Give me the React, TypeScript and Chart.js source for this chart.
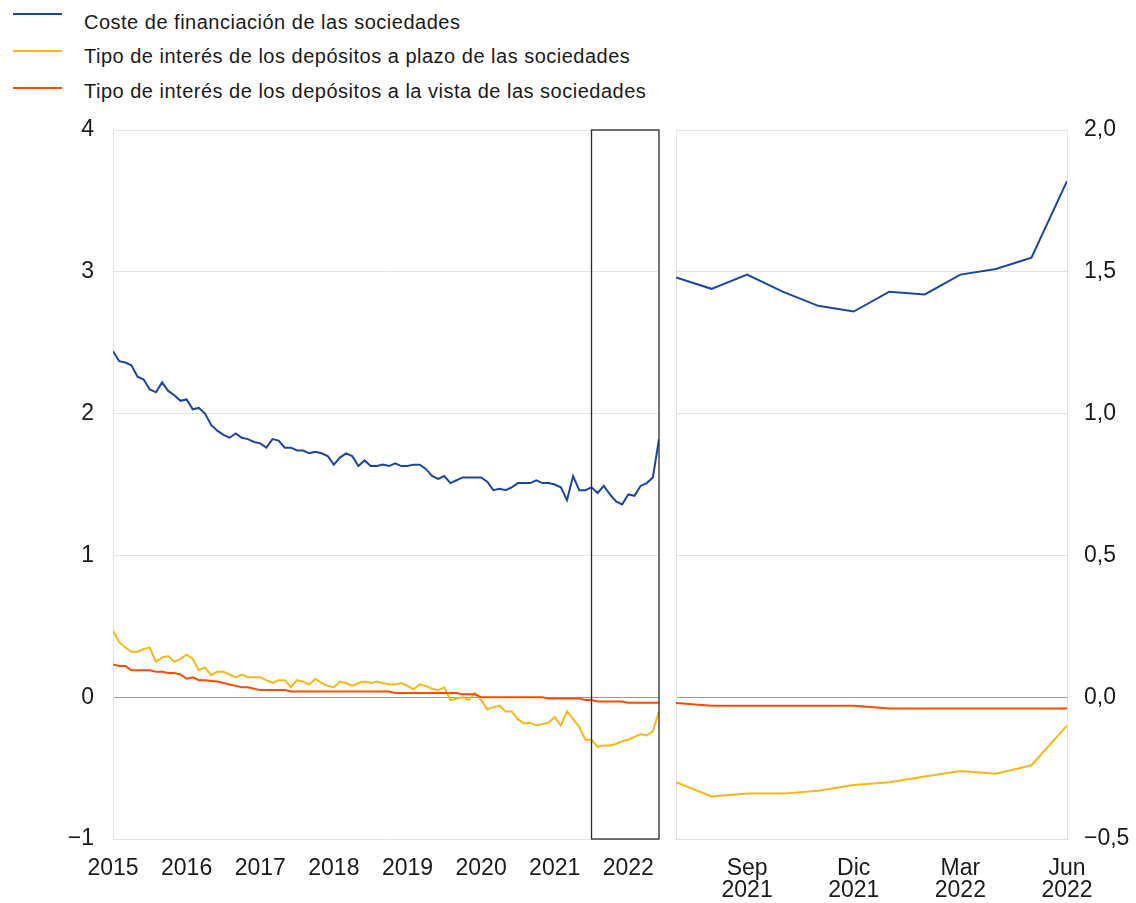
import React, { useEffect, useRef } from "react";
import { Chart, registerables } from "chart.js";

Chart.register(...registerables);

const FONT = "'Liberation Sans', Arial, Helvetica, sans-serif";

// Monthly data, Jan 2015 .. Jun 2022 (90 months)
const costeFinanciacion = [
  2.44, 2.37, 2.36, 2.34, 2.26, 2.24, 2.17, 2.15, 2.22, 2.16, 2.13, 2.09,
  2.10, 2.03, 2.04, 2.00, 1.92, 1.88, 1.85, 1.83, 1.86, 1.83, 1.82, 1.80,
  1.79, 1.76, 1.82, 1.81, 1.76, 1.76, 1.74, 1.74, 1.72, 1.73, 1.72, 1.70,
  1.64, 1.69, 1.72, 1.70, 1.63, 1.67, 1.63, 1.63, 1.64, 1.63, 1.65, 1.63,
  1.63, 1.64, 1.64, 1.61, 1.56, 1.54, 1.56, 1.51, 1.53, 1.55, 1.55, 1.55,
  1.55, 1.52, 1.46, 1.47, 1.46, 1.48, 1.51, 1.51, 1.51, 1.53, 1.51, 1.51,
  1.50, 1.48, 1.39, 1.56, 1.46, 1.46, 1.48, 1.44, 1.49, 1.43, 1.38, 1.36,
  1.43, 1.42, 1.49, 1.51, 1.55, 1.82,
];

const depositosPlazo = [
  0.47, 0.39, 0.35, 0.32, 0.32, 0.34, 0.35, 0.25, 0.28, 0.29, 0.25, 0.27,
  0.30, 0.27, 0.19, 0.21, 0.155, 0.18, 0.18, 0.16, 0.14, 0.16, 0.14, 0.14,
  0.14, 0.12, 0.10, 0.12, 0.12, 0.07, 0.12, 0.11, 0.09, 0.13, 0.10, 0.08,
  0.07, 0.11, 0.10, 0.08, 0.10, 0.11, 0.10, 0.11, 0.10, 0.09, 0.09, 0.10,
  0.08, 0.056, 0.09, 0.08, 0.06, 0.05, 0.07, -0.02, -0.01, 0.0, -0.02, 0.03,
  -0.02, -0.085, -0.07, -0.06, -0.10, -0.10, -0.155, -0.185, -0.18, -0.20, -0.19, -0.18,
  -0.14, -0.20, -0.10, -0.155, -0.21, -0.30, -0.30, -0.35, -0.34, -0.34, -0.33, -0.31,
  -0.30, -0.28, -0.26, -0.27, -0.24, -0.10,
];

const depositosVista = [
  0.23, 0.22, 0.22, 0.19, 0.19, 0.19, 0.19, 0.18, 0.18, 0.17, 0.17, 0.16,
  0.13, 0.14, 0.12, 0.12, 0.115, 0.11, 0.10, 0.09, 0.08, 0.07, 0.07, 0.06,
  0.05, 0.05, 0.05, 0.05, 0.05, 0.04, 0.04, 0.04, 0.04, 0.04, 0.04, 0.04,
  0.04, 0.04, 0.04, 0.04, 0.04, 0.04, 0.04, 0.04, 0.04, 0.04, 0.03, 0.03,
  0.03, 0.03, 0.03, 0.03, 0.03, 0.03, 0.03, 0.03, 0.03, 0.02, 0.02, 0.02,
  0.0, 0.0, 0.0, 0.0, 0.0, 0.0, 0.0, 0.0, 0.0, 0.0, 0.0, -0.01,
  -0.01, -0.01, -0.01, -0.01, -0.01, -0.02, -0.02, -0.03, -0.03, -0.03, -0.03, -0.03,
  -0.04, -0.04, -0.04, -0.04, -0.04, -0.04,
];

const seriesNames = [
  "Coste de financiación de las sociedades",
  "Tipo de interés de los depósitos a plazo de las sociedades",
  "Tipo de interés de los depósitos a la vista de las sociedades",
];
const seriesColors = ["#1c469e", "#f7b718", "#ff4b00"];

const yearLabels = ["2015", "2016", "2017", "2018", "2019", "2020", "2021", "2022"];
const zoomStart = 78; // Jul 2021
const zoomTickMonths = [2, 5, 8, 11];
const zoomTickLabels = [
  ["Sep", "2021"],
  ["Dic", "2021"],
  ["Mar", "2022"],
  ["Jun", "2022"],
];

const GRID = "#e3e3e3";
const ZERO = "#9a9a9a";
const TEXT = "#1a1a1a";

const fmtLeft = (v: number) => (v < 0 ? "\u2212" + Math.abs(v) : String(v));
const fmtRight = (v: number) => {
  const s = Math.abs(v).toFixed(1).replace(".", ",");
  return v < 0 ? "\u2212" + s : s;
};

function makeDatasets(offset: number) {
  const arrs = [costeFinanciacion, depositosPlazo, depositosVista];
  return arrs.map((arr, k) => ({
    label: seriesNames[k],
    data: arr.slice(offset).map((v, i) => ({ x: i, y: v })),
    borderColor: seriesColors[k],
    backgroundColor: seriesColors[k],
    borderWidth: 2,
    pointRadius: 0,
    tension: 0,
    order: 2 - k,
  }));
}

export default function App() {
  const leftRef = useRef<HTMLCanvasElement | null>(null);
  const rightRef = useRef<HTMLCanvasElement | null>(null);

  useEffect(() => {
    document.body.style.margin = "0";
    const tickFont = { family: FONT, size: 23, lineHeight: 0.96 };

    const boxPlugin = {
      id: "zoomBox",
      afterDatasetsDraw(chart: any) {
        const { ctx, chartArea, scales } = chart;
        const x0 = scales.x.getPixelForValue(zoomStart);
        const x1 = scales.x.getPixelForValue(costeFinanciacion.length - 1);
        ctx.save();
        ctx.strokeStyle = "#2a2a2a";
        ctx.lineWidth = 1.3;
        ctx.strokeRect(x0, chartArea.top, x1 - x0, chartArea.bottom - chartArea.top);
        ctx.restore();
      },
    };

    const left = new Chart(leftRef.current!, {
      type: "line",
      data: { datasets: makeDatasets(0) as any },
      options: {
        responsive: false,
        animation: false,
        layout: { padding: { top: 130, right: 9, left: 0, bottom: 0 } },
        plugins: { legend: { display: false }, tooltip: { enabled: false } },
        scales: {
          x: {
            type: "linear",
            min: 0,
            max: costeFinanciacion.length - 1,
            grid: { display: false },
            border: { display: false },
            afterBuildTicks: (s: any) => {
              s.ticks = yearLabels.map((_, i) => ({ value: i * 12 }));
            },
            afterFit: (s: any) => {
              s.height = 64;
            },
            ticks: {
              autoSkip: false,
              maxRotation: 0,
              padding: 11,
              color: TEXT,
              font: tickFont,
              callback: (v: any) => yearLabels[Math.round(v / 12)],
            },
          },
          y: {
            min: -1,
            max: 4,
            afterFit: (s: any) => {
              s.width = 113;
            },
            border: { display: true, color: GRID },
            grid: {
              drawTicks: false,
              color: (c: any) => (c.tick && c.tick.value === 0 ? ZERO : GRID),
            },
            ticks: {
              stepSize: 1,
              padding: 19,
              color: TEXT,
              font: tickFont,
              callback: (v: any) => fmtLeft(v),
            },
          },
        },
      },
      plugins: [boxPlugin],
    });

    const edgePlugin = {
      id: "leftEdge",
      beforeDatasetsDraw(chart: any) {
        const { ctx, chartArea } = chart;
        ctx.save();
        ctx.strokeStyle = GRID;
        ctx.lineWidth = 1;
        ctx.beginPath();
        ctx.moveTo(chartArea.left + 0.5, chartArea.top);
        ctx.lineTo(chartArea.left + 0.5, chartArea.bottom);
        ctx.stroke();
        ctx.restore();
      },
    };

    const right = new Chart(rightRef.current!, {
      type: "line",
      data: { datasets: makeDatasets(zoomStart) as any },
      options: {
        responsive: false,
        animation: false,
        layout: { padding: { top: 130, right: 0, left: 8, bottom: 0 } },
        plugins: { legend: { display: false }, tooltip: { enabled: false } },
        scales: {
          x: {
            type: "linear",
            min: 0,
            max: costeFinanciacion.length - 1 - zoomStart,
            grid: { display: false },
            border: { display: false },
            afterBuildTicks: (s: any) => {
              s.ticks = zoomTickMonths.map((m) => ({ value: m }));
            },
            afterFit: (s: any) => {
              s.height = 64;
            },
            ticks: {
              autoSkip: false,
              maxRotation: 0,
              padding: 11,
              color: TEXT,
              font: tickFont,
              callback: (v: any) => zoomTickLabels[zoomTickMonths.indexOf(Math.round(v))],
            },
          },
          y: {
            position: "right",
            min: -0.5,
            max: 2,
            afterFit: (s: any) => {
              s.width = 69;
            },
            border: { display: true, color: GRID },
            grid: {
              drawTicks: false,
              color: (c: any) => (c.tick && c.tick.value === 0 ? ZERO : GRID),
            },
            ticks: {
              stepSize: 0.5,
              padding: 17,
              color: TEXT,
              font: tickFont,
              callback: (v: any) => fmtRight(v),
            },
          },
        },
      },
      plugins: [edgePlugin],
    });

    return () => {
      left.destroy();
      right.destroy();
    };
  }, []);

  const lineYs = [14, 51, 88];
  const textTops = [10, 44, 79];

  return (
    <div
      style={{
        position: "relative",
        width: 1136,
        height: 903,
        background: "#fff",
        overflow: "hidden",
        fontFamily: FONT,
      }}
    >
      {seriesNames.map((name, i) => (
        <React.Fragment key={name}>
          <div
            style={{
              position: "absolute",
              left: 13,
              top: lineYs[i] - 1,
              width: 49,
              height: 2,
              background: seriesColors[i],
            }}
          />
          <div
            style={{
              position: "absolute",
              left: 84,
              top: textTops[i],
              lineHeight: "24px",
              fontSize: 20,
              letterSpacing: "0.5px",
              color: TEXT,
              whiteSpace: "nowrap",
            }}
          >
            {name}
          </div>
        </React.Fragment>
      ))}
      <canvas
        ref={leftRef}
        width={668}
        height={903}
        style={{ position: "absolute", left: 0, top: 0, width: 668, height: 903 }}
      />
      <canvas
        ref={rightRef}
        width={468}
        height={903}
        style={{ position: "absolute", left: 668, top: 0, width: 468, height: 903 }}
      />
    </div>
  );
}
